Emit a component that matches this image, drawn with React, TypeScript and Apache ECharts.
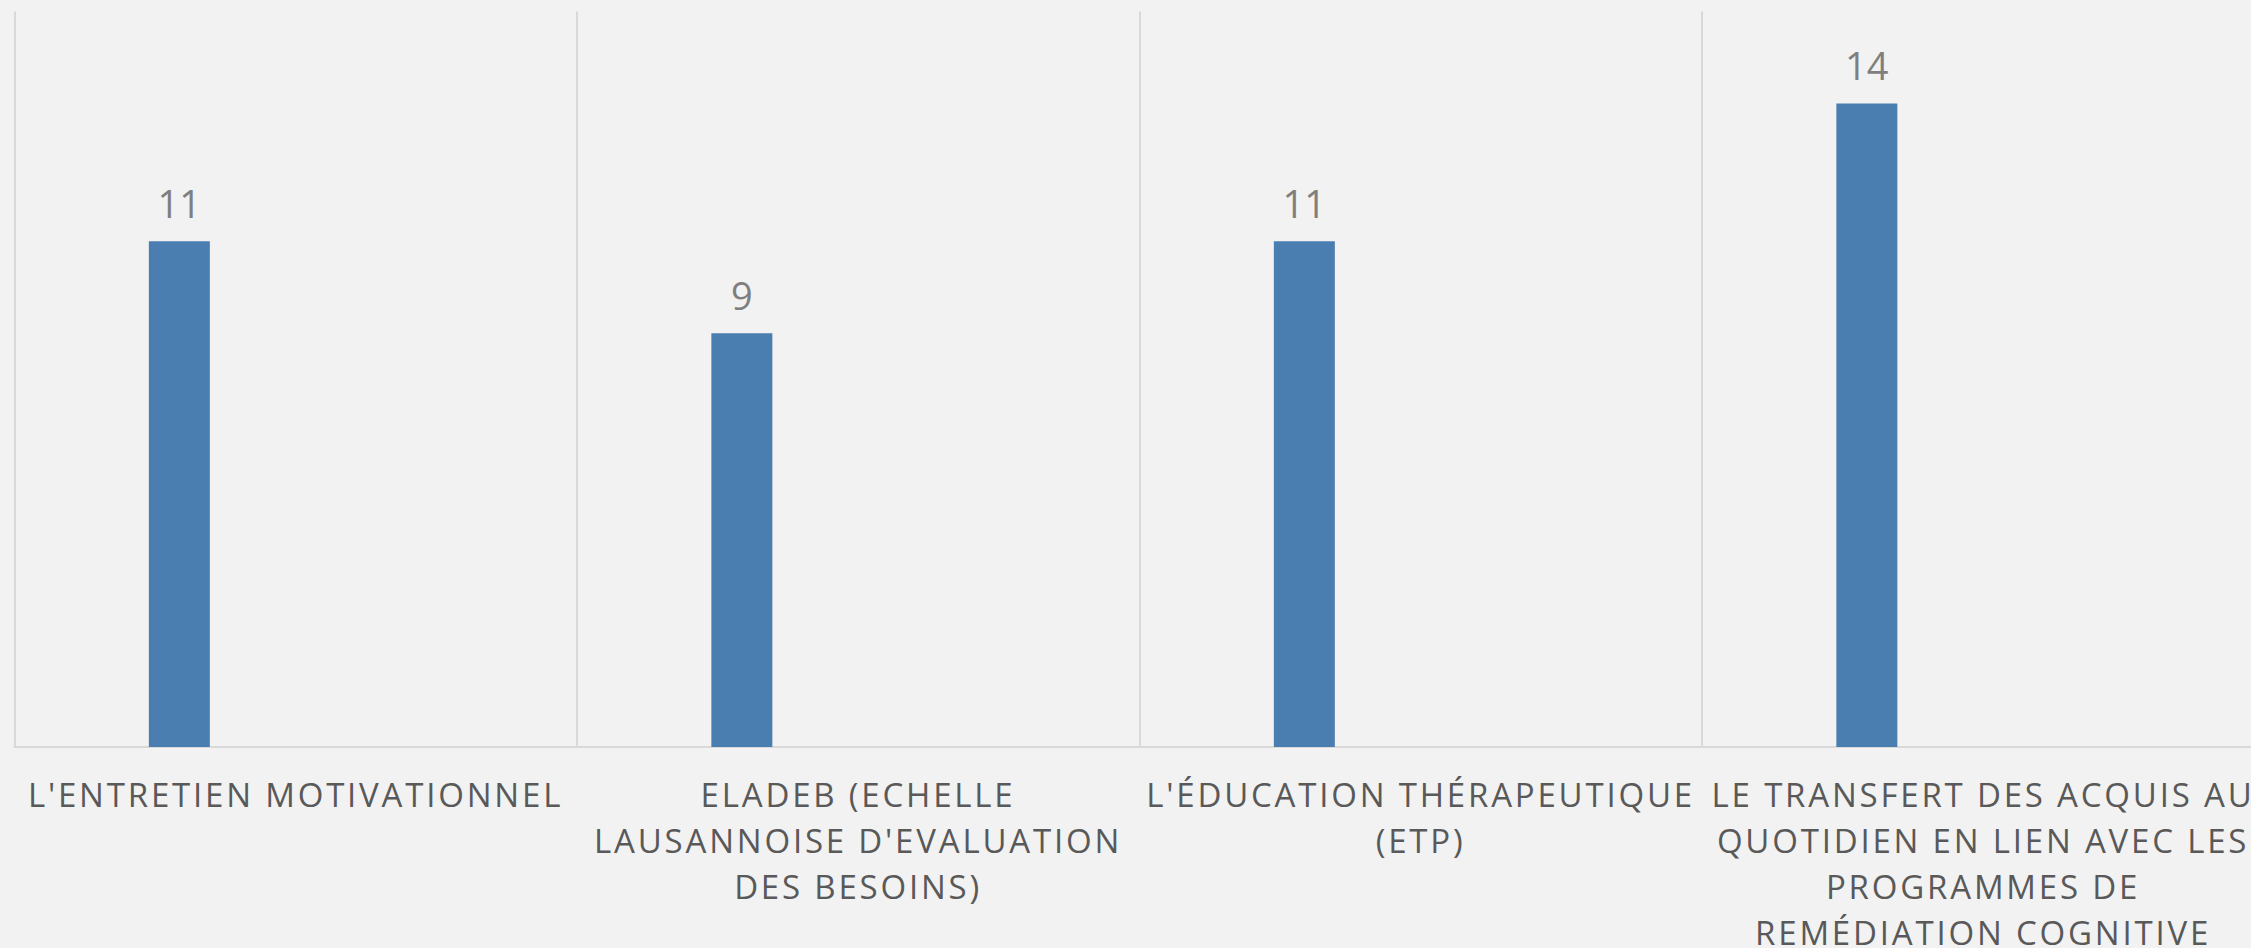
import React, { useEffect, useRef } from "react";
import * as echarts from "echarts";

const categories = [
  "L'ENTRETIEN MOTIVATIONNEL",
  "ELADEB (ECHELLE\nLAUSANNOISE D'EVALUATION\nDES BESOINS)",
  "L'ÉDUCATION THÉRAPEUTIQUE\n(ETP)",
  "LE TRANSFERT DES ACQUIS AU\nQUOTIDIEN EN LIEN AVEC LES\nPROGRAMMES DE\nREMÉDIATION COGNITIVE",
];
const values = [11, 9, 11, 14];
// further (empty) series of the clustered chart
const emptySeries = [null, null, null, null];

export default function App() {
  const ref = useRef<HTMLDivElement>(null);
  useEffect(() => {
    if (!ref.current) return;
    const chart = echarts.init(ref.current, undefined, { renderer: "svg" });
    const labelColor = "#595959";
    const mk = (name: string, data: any[]) => ({
      name,
      type: "bar",
      data,
      barWidth: 61,
      barGap: "27%",
      itemStyle: { color: "#4a7eb0" },
      label: {
        show: true,
        position: "top",
        distance: 19,
        color: "#7f7f7f",
        fontFamily: "Open Sans",
        fontSize: 38,
      },
    });
    chart.setOption({
      animation: false,
      backgroundColor: "#f2f2f2",
      grid: {
        left: 14.3,
        top: 11.5,
        right: -13.3,
        bottom: 201,
        containLabel: false,
        outerBoundsMode: "none",
      },
      xAxis: {
        type: "category",
        data: categories,
        axisTick: { show: false },
        axisLine: { lineStyle: { color: "#d9d9d9", width: 2 } },
        splitLine: { show: true, lineStyle: { color: "#d9d9d9", width: 2 } },
        axisLabel: {
          interval: 0,
          margin: 24,
          color: labelColor,
          fontFamily: "Open Sans",
          fontSize: 33,
          lineHeight: 46,
          hideOverlap: false,
        },
      },
      yAxis: {
        type: "value",
        min: 0,
        max: 16,
        show: false,
        splitLine: { show: false },
      },
      series: [mk("Série 1", values), mk("Série 2", emptySeries), mk("Série 3", emptySeries), mk("Série 4", emptySeries)],
    });
    const svg = ref.current.querySelector("svg");
    if (svg) {
      svg.querySelectorAll("text").forEach((t) => {
        const s = (t.textContent || "").trim();
        if (!/^\d+$/.test(s)) (t as SVGTextElement).style.letterSpacing = "2.8px";
      });
    }
    return () => chart.dispose();
  }, []);
  return (
    <div
      ref={ref}
      style={{ position: "absolute", left: 0, top: 0, width: 2251, height: 948, background: "#f2f2f2" }}
    />
  );
}
